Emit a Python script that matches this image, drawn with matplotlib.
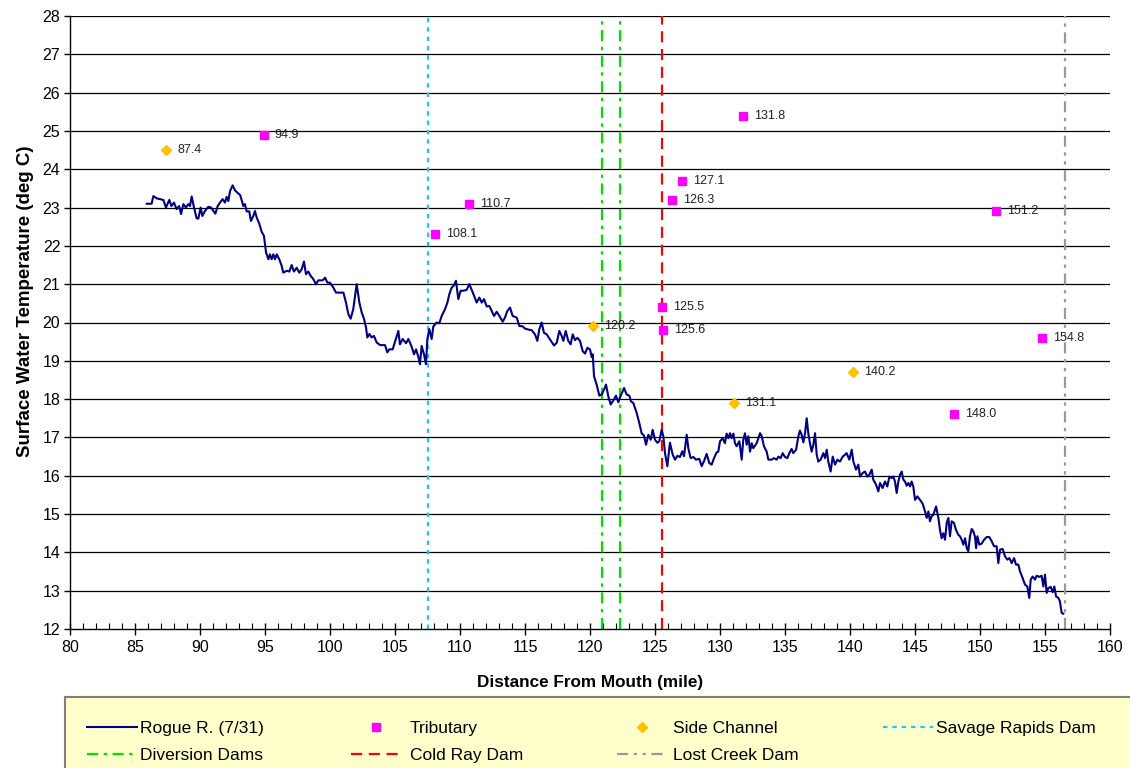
import matplotlib
matplotlib.use("Agg")
import matplotlib.pyplot as plt
from matplotlib.lines import Line2D
from matplotlib.patches import Rectangle
from matplotlib.ticker import MultipleLocator

plt.rcParams['font.family'] = ['Liberation Sans', 'DejaVu Sans']

# ---- Data ----
river_mile = [
    85.9, 86.28, 86.41, 86.67, 87.18, 87.38, 87.64, 87.8, 88.0, 88.2, 88.4, 88.54, 88.72, 88.92,
    89.1, 89.23, 89.36, 89.54, 89.74, 89.87, 90.05, 90.18, 90.38, 90.64, 90.85, 91.03, 91.18,
    91.36, 91.54, 91.74, 91.92, 92.05, 92.18, 92.31, 92.51, 92.69, 92.87, 93.08, 93.21, 93.33,
    93.46, 93.59, 93.79, 93.92, 94.1, 94.23, 94.36, 94.56, 94.74, 94.92, 95.08, 95.26, 95.38,
    95.51, 95.64, 95.77, 95.9, 96.1, 96.28, 96.41, 96.67, 96.87, 97.05, 97.23, 97.44, 97.64,
    97.82, 98.0, 98.15, 98.33, 98.51, 98.72, 98.92, 99.1, 99.44, 99.62, 99.8,
    100.0, 100.26, 100.46, 101.03, 101.23, 101.41, 101.59, 101.79, 102.05, 102.26, 102.44,
    102.62, 102.77, 102.87, 103.03, 103.2, 103.38, 103.59, 103.85, 104.23, 104.41, 104.56,
    104.82, 105.0, 105.26, 105.38, 105.59, 105.85, 106.03, 106.28, 106.46, 106.62, 106.79,
    106.92, 107.05, 107.23, 107.38, 107.49, 107.64, 107.82, 107.95, 108.2, 108.41, 108.59,
    108.85, 109.03, 109.18, 109.36, 109.54, 109.69, 109.87, 110.05, 110.26, 110.51, 110.72,
    110.9, 111.08, 111.28, 111.49, 111.67, 111.85, 112.05, 112.26, 112.44, 112.62, 112.82,
    113.03, 113.28, 113.46, 113.64, 113.85, 114.05, 114.36, 114.56, 114.82, 115.0, 115.33,
    115.51, 115.77, 115.95, 116.1, 116.28, 116.46, 116.67, 116.92, 117.23, 117.44, 117.64,
    117.82, 117.95, 118.13, 118.33, 118.51, 118.67, 118.85, 119.03, 119.23, 119.44, 119.62,
    119.8, 120.0, 120.13, 120.21, 120.31, 120.51, 120.72, 120.9, 121.08, 121.23, 121.41,
    121.59, 121.8, 122.0, 122.18, 122.36, 122.62, 122.82, 123.03, 123.15, 123.33, 123.59,
    123.79, 123.97, 124.15, 124.31, 124.49, 124.67, 124.82, 125.0, 125.18, 125.33, 125.51,
    125.64, 125.77, 125.95, 126.15, 126.36, 126.54, 126.72, 126.92, 127.1, 127.23, 127.44,
    127.56, 127.74, 127.95, 128.15, 128.41, 128.59, 128.77, 128.97, 129.18, 129.36, 129.54,
    129.74, 129.87, 130.0, 130.2, 130.38, 130.51, 130.64, 130.77, 130.9, 131.03, 131.15,
    131.28, 131.49, 131.67, 131.79, 131.92, 132.05, 132.18, 132.31, 132.44, 132.56, 132.82,
    133.08, 133.21, 133.38, 133.59, 133.72, 133.97, 134.15, 134.36, 134.49, 134.67, 134.82,
    135.0, 135.18, 135.33, 135.51, 135.64, 135.85, 136.03, 136.15, 136.28, 136.41, 136.54,
    136.67, 136.79, 136.92, 137.05, 137.18, 137.31, 137.44, 137.56, 137.74, 137.95, 138.08,
    138.21, 138.33, 138.51, 138.67, 138.85, 139.03, 139.23, 139.44, 139.62, 139.74, 139.95,
    140.13, 140.26, 140.46, 140.64, 140.77, 140.97, 141.15, 141.33, 141.49, 141.67, 141.79,
    142.0, 142.18, 142.31, 142.51, 142.69, 142.87, 143.03, 143.21, 143.33, 143.46, 143.59,
    143.72, 143.85, 143.98, 144.1, 144.23, 144.36, 144.49, 144.62, 144.74, 144.87, 145.0,
    145.18, 145.39, 145.59, 145.77, 145.9, 146.03, 146.15, 146.28, 146.41, 146.62, 146.8,
    146.92, 147.05, 147.18, 147.31, 147.44, 147.57, 147.69, 147.82, 148.0, 148.15, 148.33,
    148.46, 148.59, 148.72, 148.85, 148.98, 149.1, 149.23, 149.36, 149.49, 149.62, 149.7,
    149.8, 149.95, 150.13, 150.31, 150.51, 150.72, 150.9, 151.08, 151.28, 151.41, 151.54,
    151.74, 151.92, 152.1, 152.26, 152.44, 152.62, 152.77, 152.95, 153.08, 153.28, 153.46,
    153.64, 153.79, 153.9, 154.05, 154.23, 154.36, 154.56, 154.74, 154.87, 155.0, 155.13,
    155.26, 155.44, 155.59, 155.72, 155.85, 156.03, 156.15, 156.28, 156.41,
]
river_temp = [
    23.1, 23.1, 23.3, 23.24, 23.2, 23.0, 23.2, 23.04, 23.13, 22.96, 23.04, 22.83, 23.09, 23.0,
    23.09, 23.04, 23.29, 23.0, 22.72, 22.71, 23.0, 22.78, 22.91, 23.02, 23.0, 22.91, 22.84,
    23.04, 23.13, 23.22, 23.13, 23.28, 23.17, 23.43, 23.58, 23.45, 23.39, 23.33, 23.19, 23.04,
    23.09, 22.9, 22.9, 22.65, 22.78, 22.91, 22.74, 22.58, 22.37, 22.26, 21.83, 21.65, 21.78,
    21.65, 21.78, 21.65, 21.78, 21.65, 21.48, 21.3, 21.35, 21.33, 21.5, 21.33, 21.43, 21.3,
    21.39, 21.59, 21.26, 21.33, 21.22, 21.13, 21.0, 21.1, 21.1, 21.17, 21.04,
    21.04, 20.91, 20.78, 20.78, 20.52, 20.22, 20.1, 20.35, 21.0, 20.52, 20.26,
    20.09, 19.87, 19.61, 19.7, 19.61, 19.65, 19.48, 19.41, 19.41, 19.22, 19.3,
    19.3, 19.5, 19.78, 19.43, 19.57, 19.46, 19.57, 19.37, 19.17, 19.3, 19.11,
    18.91, 19.39, 19.17, 18.91, 19.57, 19.83, 19.57, 19.9, 20.0, 19.98, 20.17,
    20.35, 20.52, 20.74, 20.91, 20.97, 21.09, 20.61, 20.83, 20.83, 20.85, 21.0,
    20.85, 20.7, 20.52, 20.65, 20.52, 20.61, 20.42, 20.43, 20.3, 20.17, 20.28,
    20.17, 20.02, 20.13, 20.3, 20.39, 20.17, 20.13, 19.91, 19.9, 19.84, 19.81,
    19.8, 19.69, 19.52, 19.82, 20.0, 19.73, 19.69, 19.56, 19.4, 19.47, 19.78,
    19.65, 19.52, 19.78, 19.52, 19.43, 19.69, 19.54, 19.6, 19.52, 19.25, 19.19,
    19.34, 19.3, 19.1, 19.17, 18.6, 18.38, 18.09, 18.12, 18.25, 18.38, 18.07,
    17.86, 17.97, 18.09, 17.92, 18.09, 18.29, 18.12, 18.09, 17.94, 17.9, 17.64,
    17.38, 17.11, 17.05, 16.81, 17.07, 16.94, 17.2, 16.94, 16.86, 16.9, 17.2,
    17.03, 16.59, 16.25, 16.86, 16.55, 16.42, 16.52, 16.49, 16.64, 16.51, 17.07,
    16.72, 16.46, 16.49, 16.42, 16.44, 16.25, 16.38, 16.57, 16.33, 16.29, 16.46,
    16.61, 16.63, 16.9, 16.98, 16.85, 17.1, 16.98, 17.11, 16.98, 17.1, 16.85,
    16.77, 16.9, 16.42, 16.94, 17.11, 16.81, 17.03, 16.63, 16.85, 16.72, 16.85,
    17.11, 17.03, 16.77, 16.63, 16.42, 16.42, 16.46, 16.42, 16.5, 16.46, 16.59,
    16.49, 16.46, 16.59, 16.7, 16.59, 16.68, 17.03, 17.18, 17.07, 16.87, 17.11,
    17.5, 17.11, 16.85, 16.63, 16.81, 17.11, 16.55, 16.37, 16.42, 16.59, 16.46,
    16.68, 16.37, 16.11, 16.5, 16.29, 16.42, 16.37, 16.5, 16.55, 16.59, 16.42,
    16.68, 16.37, 16.16, 16.29, 15.98, 16.07, 16.11, 15.98, 16.03, 16.16, 15.9,
    15.77, 15.59, 15.81, 15.68, 15.85, 15.72, 15.98, 15.94, 15.98, 15.85, 15.55,
    15.85, 16.03, 16.11, 15.9, 15.85, 15.74, 15.81, 15.72, 15.85, 15.72, 15.37,
    15.46, 15.37, 15.27, 15.07, 14.9, 15.07, 14.81, 14.94, 14.98, 15.2, 14.9,
    14.59, 14.37, 14.5, 14.33, 14.77, 14.9, 14.42, 14.81, 14.77, 14.59, 14.46,
    14.42, 14.33, 14.2, 14.37, 14.11, 14.03, 14.42, 14.61, 14.55, 14.4, 14.11,
    14.42, 14.2, 14.23, 14.33, 14.4, 14.4, 14.29, 14.16, 14.16, 13.72, 14.07,
    14.09, 13.9, 13.81, 13.85, 13.72, 13.85, 13.68, 13.68, 13.5, 13.33, 13.16,
    13.11, 12.81, 13.29, 13.37, 13.29, 13.39, 13.36, 13.39, 13.11, 13.42, 12.94,
    13.07, 13.1, 12.96, 13.11, 12.85, 12.81, 12.72, 12.42, 12.4,
]

trib_mile = [94.9, 108.1, 110.7, 125.5, 125.6, 126.3, 127.1, 131.8, 148.0, 151.2, 154.8]
trib_temp = [24.9, 22.3, 23.1, 20.4, 19.8, 23.2, 23.7, 25.4, 17.6, 22.9, 19.6]

side_mile = [87.4, 120.2, 131.1, 140.2]
side_temp = [24.5, 19.9, 17.9, 18.7]

savage_rapids_mile = 107.5
diversion_miles = [120.9, 122.3]
cold_ray_mile = 125.5
lost_creek_mile = 156.5

# ---- Styles ----
C_RIVER = '#000080'
C_TRIB = '#FF00FF'
C_SIDE = '#FFC000'
C_SAV = '#1EC8F5'
C_DIV = '#00E000'
C_COLD = '#FF0000'
C_LOST = '#999999'
LS_SAV = (0, (2, 2.2))
LS_DIV = (0, (5, 2.5, 1.5, 2.5))
LS_COLD = (0, (5, 3))
LS_LOST = (0, (5, 2.5, 1.5, 2.5, 1.5, 2.5))

# ---- Figure ----
fig = plt.figure(figsize=(11.30, 7.68), dpi=100)
ax = fig.add_axes([70/1130, 1 - 629/768, 1040/1130, 613/768])

ax.set_xlim(80, 160)
ax.set_ylim(12, 28)

for t in range(13, 29):
    ax.axhline(t, color='black', lw=0.9, zorder=1)

ax.axvline(savage_rapids_mile, color=C_SAV, lw=1.6, ls=LS_SAV, zorder=2)
for m in diversion_miles:
    ax.axvline(m, color=C_DIV, lw=1.6, ls=LS_DIV, zorder=2)
ax.axvline(cold_ray_mile, color=C_COLD, lw=1.6, ls=LS_COLD, zorder=2)
ax.axvline(lost_creek_mile, color=C_LOST, lw=1.6, ls=LS_LOST, zorder=2)

ax.plot(river_mile, river_temp, color=C_RIVER, lw=1.5, zorder=4)
ax.plot(trib_mile, trib_temp, ls='none', marker='s', ms=6.2, color=C_TRIB,
        markeredgecolor=C_TRIB, zorder=5)
ax.plot(side_mile, side_temp, ls='none', marker='D', ms=5.2, color=C_SIDE,
        markeredgecolor=C_SIDE, zorder=5)

for m, t in zip(trib_mile + side_mile, trib_temp + side_temp):
    ax.annotate(f"{m:.1f}", (m, t), xytext=(8, 0), textcoords='offset points',
                va='center', ha='left', fontsize=9, color='#222222', zorder=6)

for s in ['top', 'right']:
    ax.spines[s].set_visible(False)
for s in ['left', 'bottom']:
    ax.spines[s].set_color('black')
    ax.spines[s].set_linewidth(1.0)
ax.spines['bottom'].set_zorder(7)

ax.xaxis.set_major_locator(MultipleLocator(5))
ax.xaxis.set_minor_locator(MultipleLocator(1))
ax.yaxis.set_major_locator(MultipleLocator(1))
ax.tick_params(axis='x', which='major', direction='inout', length=8, width=1, labelsize=11.5, pad=4)
ax.tick_params(axis='x', which='minor', direction='in', length=4, width=0.8)
ax.tick_params(axis='y', which='major', direction='out', length=4, width=1, labelsize=11.5, pad=3)

ax.set_xlabel('Distance From Mouth (mile)', fontsize=12.3, fontweight='bold', labelpad=14)
ax.set_ylabel('Surface Water Temperature (deg C)', fontsize=13.5, fontweight='bold',
              labelpad=6, y=0.535)

# ---- Legend ----
bg = Rectangle((65/1130, -0.1), 1.2, (768 - 697)/768 + 0.1, transform=fig.transFigure,
               facecolor='#FFFFCC', edgecolor='#7F7F7F', lw=1.5, zorder=0)
fig.patches.append(bg)

h_rogue = Line2D([], [], color=C_RIVER, lw=1.5)
h_trib = Line2D([], [], ls='none', marker='s', ms=6.2, color=C_TRIB)
h_side = Line2D([], [], ls='none', marker='D', ms=5.2, color=C_SIDE)
h_sav = Line2D([], [], color=C_SAV, lw=1.6, ls=LS_SAV)
h_div = Line2D([], [], color=C_DIV, lw=1.6, ls=LS_DIV)
h_cold = Line2D([], [], color=C_COLD, lw=1.6, ls=LS_COLD)
h_lost = Line2D([], [], color=C_LOST, lw=1.6, ls=LS_LOST)

legend_columns = [
    ([h_rogue, h_div], ['Rogue R. (7/31)', 'Diversion Dams'], 87, 0.15),
    ([h_trib, h_cold], ['Tributary', 'Cold Ray Dam'], 351, 0.5),
    ([h_side, h_lost], ['Side Channel', 'Lost Creek Dam'], 617, 0.3),
    ([h_sav], ['Savage Rapids Dam'], 883, 0.15),
]
for hs, ls_, xpx, pad in legend_columns:
    fig.legend(hs, ls_, ncol=1, loc='upper left',
               bbox_to_anchor=(xpx/1130, 1 - 720.5/768),
               fontsize=12.5, frameon=False, handlelength=2.9,
               handletextpad=pad, labelspacing=0.73, borderpad=0, borderaxespad=0)

fig.savefig('out.png', dpi=100)
